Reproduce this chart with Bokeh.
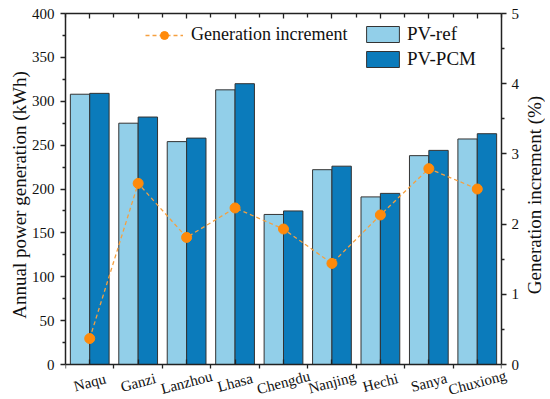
import math
import numpy as np
from bokeh.plotting import figure
from bokeh.models import (ColumnDataSource, Range1d, LinearAxis, FixedTicker,
                          Legend, LegendItem)
from bokeh.core.properties import value
from bokeh.transform import dodge
from bokeh.embed import file_html
from bokeh.resources import INLINE

cities = ["Naqu", "Ganzi", "Lanzhou", "Lhasa", "Chengdu", "Nanjing", "Hechi", "Sanya", "Chuxiong"]
pv_ref = [308, 275, 254, 313, 171, 222, 191, 238, 257]
pv_pcm = [309, 282, 258, 320, 175, 226, 195, 244, 263]
increment = [0.37, 2.58, 1.81, 2.23, 1.93, 1.44, 2.13, 2.79, 2.50]
left_ticks = [0, 50, 100, 150, 200, 250, 300, 350, 400]
right_ticks = [0, 1, 2, 3, 4, 5]
left_title = "Annual power generation (kWh)"
right_title = "Generation increment (%)"

x = list(range(len(cities)))
src = ColumnDataSource(dict(x=x, ref=pv_ref, pcm=pv_pcm, inc=increment, city=cities))

FONT = "'Liberation Serif', 'Times New Roman', serif"
LIGHT = "#92cfe9"
DARK = "#0b7bbb"
ORANGE = "#ff8a0a"
INK = "#111111"

# data area is 351px tall; an extra strip below zero holds the category names
DATA_H = 351
PAD = 30
ymax_l, ymax_r = left_ticks[-1], right_ticks[-1]

p = figure(frame_width=436, frame_height=DATA_H + PAD, output_backend="svg",
           toolbar_location=None,
           x_range=Range1d(-0.5, len(cities) - 0.5),
           y_range=Range1d(-ymax_l * PAD / DATA_H, ymax_l),
           min_border_left=65, min_border_right=44, min_border_top=13, min_border_bottom=0)
p.xgrid.visible = False
p.ygrid.visible = False
p.outline_line_color = None
p.background_fill_color = "white"

p.extra_y_ranges = {"inc": Range1d(-ymax_r * PAD / DATA_H, ymax_r)}

r_ref = p.vbar(x=dodge("x", -0.2, range=p.x_range), top="ref", width=0.4, source=src,
               fill_color=LIGHT, line_color="#333333", line_width=1)
r_pcm = p.vbar(x=dodge("x", 0.2, range=p.x_range), top="pcm", width=0.4, source=src,
               fill_color=DARK, line_color="#333333", line_width=1)
r_line = p.line(x="x", y="inc", source=src, y_range_name="inc",
                line_color="#f5a040", line_width=1.3, line_dash="4 3")
r_dot = p.scatter(x="x", y="inc", source=src, y_range_name="inc",
                  size=10, fill_color=ORANGE, line_color=ORANGE)

def txt(**kw):
    return p.text(level="overlay", text_font=value(FONT), text_color=INK, **kw)

# category names, centred under each group and tilted
txt(x="x", y=value(0), text="city", source=src, y_offset=18, angle=0.26,
    text_align="center", text_baseline="middle", text_font_size="15px")

# tick labels (serif)
x0, x1 = p.x_range.start, p.x_range.end
txt(x=value(x0), y=left_ticks, text=[str(v) for v in left_ticks], x_offset=-11,
    text_align="right", text_baseline="middle", text_font_size="15px")
txt(x=value(x1), y=right_ticks, text=[str(v) for v in right_ticks], x_offset=10,
    text_align="left", text_baseline="middle", text_font_size="15px", y_range_name="inc")

# axis titles
txt(x=value(x0), y=value(ymax_l / 2), text=value(left_title), x_offset=-46, y_offset=6,
    angle=math.pi / 2, text_align="center", text_baseline="middle", text_font_size="19px")
txt(x=value(x1), y=value(ymax_r / 2), text=value(right_title), x_offset=33, y_offset=6,
    angle=math.pi / 2, text_align="center", text_baseline="middle", text_font_size="19px",
    y_range_name="inc")

minor_x = [i - 0.5 for i in range(len(cities) + 1)]

def style_axis(ax):
    ax.axis_line_color = "#222222"
    ax.axis_line_width = 1.5
    ax.major_tick_line_color = "#222222"
    ax.minor_tick_line_color = "#222222"
    ax.major_tick_line_width = 1.3
    ax.minor_tick_line_width = 1.3
    ax.major_label_text_font_size = "1px"
    ax.major_label_standoff = 0

# bottom axis sits at zero
xa = p.xaxis[0]
style_axis(xa)
xa.fixed_location = 0
xa.ticker = FixedTicker(ticks=x, minor_ticks=minor_x)
xa.major_label_overrides = {i: "" for i in x}
xa.major_tick_in = 5
xa.major_tick_out = 0
xa.minor_tick_in = 0
xa.minor_tick_out = 4

# left axis
ya = p.yaxis[0]
style_axis(ya)
ya.bounds = (0, ymax_l)
ya.ticker = FixedTicker(ticks=left_ticks,
                        minor_ticks=[v + 25 for v in left_ticks[:-1]])
ya.major_label_overrides = {v: "" for v in left_ticks}
ya.major_tick_in = 0
ya.major_tick_out = 5
ya.minor_tick_in = 0
ya.minor_tick_out = 3

# right axis
ra = LinearAxis(y_range_name="inc")
style_axis(ra)
ra.bounds = (0, ymax_r)
ra.ticker = FixedTicker(ticks=right_ticks,
                        minor_ticks=[v + 0.5 for v in right_ticks[:-1]])
ra.major_label_overrides = {v: "" for v in right_ticks}
ra.major_tick_in = 0
ra.major_tick_out = 5
ra.minor_tick_in = 0
ra.minor_tick_out = 3
p.add_layout(ra, "right")

# top axis (ticks only)
ta = LinearAxis()
style_axis(ta)
ta.ticker = FixedTicker(ticks=x, minor_ticks=minor_x)
ta.major_label_overrides = {i: "" for i in x}
ta.major_tick_in = 5
ta.major_tick_out = 0
ta.minor_tick_in = 4
ta.minor_tick_out = 0
p.add_layout(ta, "above")

def style_legend(lg, size):
    lg.label_text_font = FONT
    lg.label_text_font_size = size
    lg.label_text_color = INK
    lg.border_line_color = None
    lg.background_fill_alpha = 0
    lg.padding = 0
    lg.margin = 0

leg1 = Legend(items=[LegendItem(label="Generation increment", renderers=[r_line, r_dot])],
              location=(80, 319 + PAD), glyph_width=38, glyph_height=20, label_standoff=8)
style_legend(leg1, "18px")
p.add_layout(leg1, "center")

leg2 = Legend(items=[LegendItem(label="PV-ref", renderers=[r_ref]),
                     LegendItem(label="PV-PCM", renderers=[r_pcm])],
              location=(297, 294 + PAD), glyph_width=41, glyph_height=20, spacing=3,
              label_standoff=4)
style_legend(leg2, "19px")
p.add_layout(leg2, "center")

open("out.html", "w").write(file_html(p, INLINE))
